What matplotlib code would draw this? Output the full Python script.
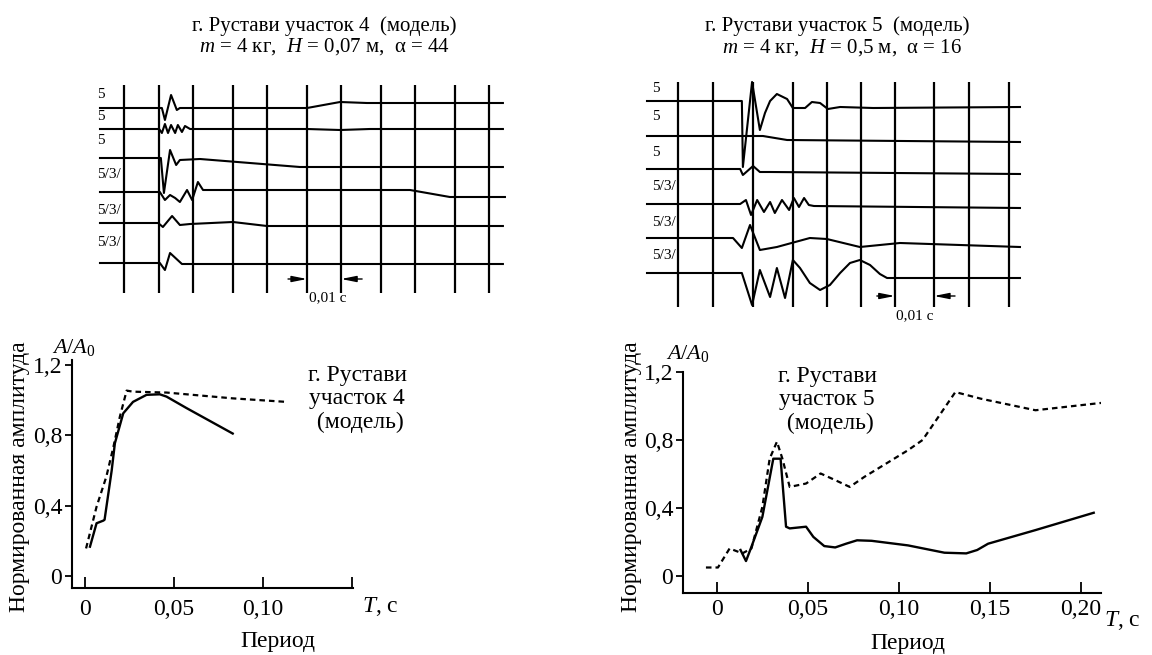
import matplotlib
matplotlib.use('Agg')
from matplotlib import pyplot as plt

plt.rcParams['font.family'] = ['Liberation Serif', 'DejaVu Serif']
plt.rcParams['mathtext.fontset'] = 'custom'
plt.rcParams['mathtext.rm'] = 'Liberation Serif'
plt.rcParams['mathtext.it'] = 'Liberation Serif:italic'

# ---- seismograms, time in ms, amplitude (up = +) ----
left_grid = [7.1, 17.4, 27.4, 39.1, 49.1, 60.9, 70.9, 82.6, 92.6, 104.4, 114.4]
left_labels = ['5', '5', '5', '5/3/', '5/3/', '5/3/']

left_t1 = [0, 18.2, 19.1, 20.9, 22.6, 23.5, 60.9, 70.6, 78.5, 118.5]
left_a1 = [0, 0, -12, 13, -2, 0, 0, 6, 5, 5]
left_t2 = [0, 17.4, 18.2, 19.1, 20.0, 20.9, 22.1, 22.9, 24.1, 25.0, 26.5, 60.9, 70.6, 79.4, 118.5]
left_a2 = [0, 0, -4, 5, -4, 4, -4, 4, -3, 3, 0, 0, -1, 0, 0]
left_t3 = [0, 17.9, 18.8, 20.6, 22.4, 23.5, 29.4, 58.8, 118.5]
left_a3 = [0, 0, -35, 8, -7, -2, -1, -9, -9]
left_t4 = [0, 17.6, 19.1, 20.6, 22.1, 23.5, 25.6, 27.1, 28.8, 30.3, 91.2, 102.9, 119.1]
left_a4 = [0, 0, -8, -3, -6, -10, 2, -8, 10, 2, 2, -5, -5]
left_t5 = [0, 17.1, 18.5, 21.2, 23.5, 26.5, 39.1, 49.1, 118.5]
left_a5 = [0, 0, -4, 7, -2, -1, 1, -3, -3]
left_t6 = [0, 17.6, 19.1, 20.6, 24.1, 118.5]
left_a6 = [0, 0, -7, 10, -1, -1]

right_grid = [9.1, 19.4, 31.2, 42.9, 52.9, 62.9, 72.9, 84.4, 94.7, 106.5]
right_labels = ['5', '5', '5', '5/3/', '5/3/', '5/3/']

right_t1 = [0, 27.9, 28.2, 30.9, 33.2, 34.7, 36.2, 38.2, 41.2, 42.9, 46.5, 48.5, 50.9, 53.2, 56.8, 66.5, 109.7]
right_a1 = [0, 0, -66, 19, -29, -12, 0, 7, 2, -7, -7, -1, -2, -8, -6, -7, -6]
right_t2 = [0, 34.1, 41.2, 109.7]
right_a2 = [0, 0, -4, -6]
right_t3 = [0, 27.4, 28.2, 31.2, 33.2, 36.2, 109.7]
right_a3 = [0, 0, -6, 3, -3, -3, -5]
right_t4 = [0, 27.4, 29.1, 30.6, 32.4, 34.4, 36.2, 37.6, 39.7, 41.8, 43.2, 44.7, 46.2, 47.6, 49.1, 109.7]
right_a4 = [0, 0, 4, -11, 4, -8, 2, -9, 4, -6, 6, -3, 6, -1, -2, -4]
right_t5 = [0, 25.3, 27.9, 30.3, 33.2, 38.2, 47.9, 52.9, 62.6, 74.4, 109.7]
right_a5 = [0, 0, -10, 13, -12, -9, 0, -1, -9, -5, -9]
right_t6 = [0, 27.9, 30.9, 33.2, 36.2, 38.2, 40.6, 42.9, 45.0, 47.9, 50.9, 53.8, 56.8, 59.7, 62.6, 65.6, 68.5, 70.6, 109.7]
right_a6 = [0, 0, -32, 3, -24, 5, -25, 13, 5, -10, -17, -12, 0, 10, 13, 8, -1, -5, -5]

# ---- spectra ----
p4_T_solid = [0.0028, 0.0065, 0.0103, 0.011, 0.015, 0.0168, 0.0215, 0.027, 0.0346, 0.042, 0.0458, 0.057, 0.083]
p4_A_solid = [0.167, 0.30, 0.315, 0.32, 0.60, 0.755, 0.925, 0.99, 1.03, 1.033, 1.02, 0.955, 0.81]
p4_T_dash = [0.0006, 0.0065, 0.012, 0.016, 0.0196, 0.0234, 0.027, 0.0458, 0.083, 0.113]
p4_A_dash = [0.157, 0.394, 0.565, 0.735, 0.906, 1.054, 1.048, 1.043, 1.01, 0.99]

p5_T_solid = [0.013, 0.016, 0.019, 0.025, 0.031, 0.035, 0.038, 0.040, 0.049, 0.053, 0.059, 0.065,
              0.071, 0.077, 0.085, 0.105, 0.125, 0.137, 0.143, 0.149, 0.175, 0.207]
p5_A_solid = [0.153, 0.088, 0.172, 0.348, 0.69, 0.69, 0.29, 0.28, 0.29, 0.23, 0.176, 0.168,
              0.19, 0.21, 0.207, 0.18, 0.137, 0.133, 0.153, 0.19, 0.27, 0.372]
p5_T_dash = [-0.006, 0.0006, 0.007, 0.014, 0.019, 0.025, 0.029, 0.033, 0.036, 0.040, 0.049, 0.057,
             0.065, 0.073, 0.081, 0.105, 0.113, 0.131, 0.145, 0.175, 0.211]
p5_A_dash = [0.05, 0.05, 0.162, 0.133, 0.162, 0.407, 0.69, 0.79, 0.69, 0.524, 0.544, 0.603,
             0.564, 0.524, 0.583, 0.74, 0.80, 1.082, 1.043, 0.975, 1.018]

W, H = 1152, 655
fig = plt.figure(figsize=(W / 100, H / 100), dpi=100)


def box(x0, y0, x1, y1):
    return [x0 / W, 1 - y1 / H, (x1 - x0) / W, (y1 - y0) / H]


def fx(x):
    return x / W


def fy(y):
    return 1 - y / H


def seismo(rect, xlim, ylim, grid, gtop, gbot, traces, levels, labels, lab_y, lab_x, bar):
    ax = fig.add_axes(rect)
    ax.set_xlim(*xlim)
    ax.set_ylim(*ylim)
    ax.axis('off')
    ax.vlines(grid, gtop, gbot, color='k', lw=1.6)
    for (t, a), lev in zip(traces, levels):
        ax.plot(t, [lev - v for v in a], color='k', lw=1.5)
    for lab, ly in zip(labels, lab_y):
        ax.text(lab_x, ly, lab, fontsize=11, ha='left', va='center')
    by, a1, g1, a2, g2, tx, ty = bar
    arrow = dict(arrowstyle='-|>,head_length=0.9,head_width=0.18', color='k', lw=1.0,
                 shrinkA=0, shrinkB=0)
    ax.annotate('', xy=(g1, by), xytext=(a1, by), arrowprops=arrow)
    ax.annotate('', xy=(g2, by), xytext=(a2, by), arrowprops=arrow)
    ax.text(tx, ty, '0,01 с', fontsize=11, ha='center', va='center')
    return ax


left_traces = [(left_t1, left_a1), (left_t2, left_a2), (left_t3, left_a3),
               (left_t4, left_a4), (left_t5, left_a5), (left_t6, left_a6)]
seismo(box(90, 78, 512, 305), (-2.94, 121.18), (305, 78), left_grid, 85, 293,
       left_traces, [108, 129, 158, 192, 223, 263], left_labels,
       [94, 117, 140, 175, 210, 243], -0.9,
       (279, 55.3, 60.9, 77.1, 70.9, 67.1, 298))

right_traces = [(right_t1, right_a1), (right_t2, right_a2), (right_t3, right_a3),
                (right_t4, right_a4), (right_t5, right_a5), (right_t6, right_a6)]
seismo(box(640, 75, 1030, 325), (-2.06, 112.65), (325, 75), right_grid, 82, 307,
       right_traces, [101, 136, 169, 204, 238, 273], right_labels,
       [88, 117, 152, 187, 222, 255], 1.5,
       (296, 67.6, 72.9, 90.6, 84.4, 78.8, 316))

# titles
fig.text(fx(324), fy(26), 'г. Рустави участок 4  (модель)', fontsize=15, ha='center', va='center')
fig.text(fx(324), fy(47), '$m$ = 4 кг,  $H$ = 0,07 м,  α = 44', fontsize=15, ha='center', va='center')
fig.text(fx(837), fy(26), 'г. Рустави участок 5  (модель)', fontsize=15, ha='center', va='center')
fig.text(fx(842), fy(48), '$m$ = 4 кг,  $H$ = 0,5 м,  α = 16', fontsize=15, ha='center', va='center')


def spectrum(rect, xlim, ylim, xt, xl, xpad, ts, As, td, Ad):
    ax = fig.add_axes(rect)
    ax.plot(ts, As, color='k', lw=1.7)
    ax.plot(td, Ad, color='k', lw=1.6, ls='--', dashes=(2.5, 1.8))
    ax.set_xlim(*xlim)
    ax.set_ylim(*ylim)
    for s in ('top', 'right'):
        ax.spines[s].set_visible(False)
    for s in ('left', 'bottom'):
        ax.spines[s].set_linewidth(1.5)
    ax.set_xticks(xt)
    ax.set_xticklabels(xl)
    ax.set_yticks([0, 0.4, 0.8, 1.2])
    ax.set_yticklabels(['0', '0,4', '0,8', '1,2'])
    ax.tick_params(axis='x', direction='in', length=8, width=1.3, pad=xpad, labelsize=17)
    ax.tick_params(axis='y', direction='out', length=5, width=1.3, pad=2, labelsize=17)
    ax.patch.set_alpha(0)
    return ax


spectrum(box(72, 360, 353, 588), (-0.0073, 0.1506), (-0.068, 1.228),
         [0, 0.05, 0.10, 0.15], ['0', '0,05', '0,10', ''], 8,
         p4_T_solid, p4_A_solid, p4_T_dash, p4_A_dash)
spectrum(box(683, 372, 1101, 593), (-0.0186, 0.211), (-0.1, 1.2),
         [0, 0.05, 0.10, 0.15, 0.20], ['0', '0,05', '0,10', '0,15', '0,20'], 4,
         p5_T_solid, p5_A_solid, p5_T_dash, p5_A_dash)

for ax_x, ylab_x, ay, note_x, note_y, note, tx, ty, px_, py_ in [
        (52, 20, 347, 357, 399, 'г. Рустави\nучасток 4\n (модель)', 362, 607, 278, 642),
        (666, 632, 353, 827, 400, 'г. Рустави\nучасток 5\n (модель)', 1104, 620, 908, 643)]:
    fig.text(fx(ax_x), fy(ay), '$A/A_{\\mathrm{0}}$', fontsize=16, ha='left', va='center')
    fig.text(fx(ylab_x), fy(477), 'Нормированная амплитуда', fontsize=17, rotation=90,
             ha='center', va='center')
    fig.text(fx(note_x), fy(note_y), note, fontsize=17, ha='center', va='center', linespacing=1.15)
    fig.text(fx(tx), fy(ty), '$T$, с', fontsize=17, ha='left', va='center')
    fig.text(fx(px_), fy(py_), 'Период', fontsize=17, ha='center', va='center')

fig.savefig('out.png', dpi=100, facecolor='white')
